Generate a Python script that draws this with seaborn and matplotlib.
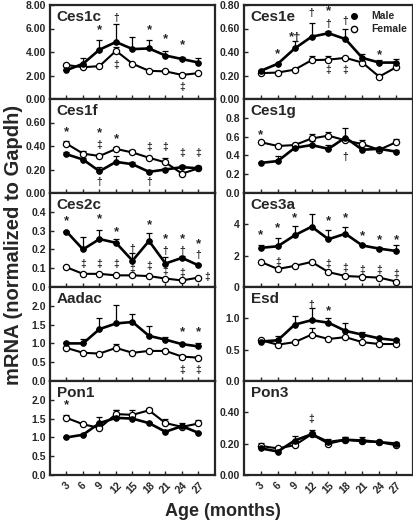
import numpy as np
import pandas as pd
import seaborn as sns
import matplotlib.pyplot as plt
from matplotlib.lines import Line2D

sns.set_style("ticks")
plt.rcParams['font.family'] = ['Liberation Sans', 'DejaVu Sans']
plt.rcParams['font.weight'] = 'bold'

# Dữ liệu: tuổi (tháng)
ages = [3, 6, 9, 12, 15, 18, 21, 24, 27]
genes = ['Ces1c', 'Ces1e', 'Ces1f', 'Ces1g', 'Ces2c', 'Ces3a', 'Aadac', 'Esd', 'Pon1', 'Pon3']

ces1c_m = [2.45, 3.0, 4.2, 4.85, 4.25, 4.3, 3.7, 3.4, 3.1]
ces1c_m_err = [0.1, 0.5, 0.8, 1.5, 1.0, 0.75, 0.35, 0.2, 0.35]
ces1c_f = [2.9, 2.7, 2.8, 4.1, 3.0, 2.4, 2.35, 2.05, 2.2]
ces1c_f_err = [0.1, 0.05, 0.05, 0.3, 0.05, 0.05, 0.1, 0.1, 0.05]

ces1e_m = [0.24, 0.30, 0.43, 0.53, 0.56, 0.51, 0.35, 0.31, 0.31]
ces1e_m_err = [0.01, 0.01, 0.06, 0.12, 0.02, 0.09, 0.03, 0.02, 0.03]
ces1e_f = [0.22, 0.225, 0.25, 0.33, 0.335, 0.35, 0.31, 0.19, 0.27]
ces1e_f_err = [0.01, 0.01, 0.01, 0.04, 0.03, 0.01, 0.01, 0.02, 0.01]

ces1f_m = [0.33, 0.285, 0.185, 0.265, 0.245, 0.18, 0.20, 0.22, 0.21]
ces1f_m_err = [0.02, 0.01, 0.04, 0.05, 0.02, 0.02, 0.01, 0.02, 0.02]
ces1f_f = [0.42, 0.335, 0.315, 0.375, 0.345, 0.30, 0.26, 0.165, 0.21]
ces1f_f_err = [0.02, 0.02, 0.02, 0.02, 0.02, 0.01, 0.04, 0.01, 0.01]

ces1g_m = [0.32, 0.34, 0.48, 0.51, 0.47, 0.59, 0.46, 0.47, 0.44]
ces1g_m_err = [0.01, 0.05, 0.03, 0.04, 0.04, 0.10, 0.02, 0.02, 0.02]
ces1g_f = [0.54, 0.50, 0.51, 0.58, 0.61, 0.56, 0.52, 0.46, 0.54]
ces1g_f_err = [0.01, 0.01, 0.02, 0.05, 0.04, 0.02, 0.04, 0.02, 0.03]

ces2c_m = [0.295, 0.20, 0.255, 0.235, 0.14, 0.245, 0.125, 0.155, 0.115]
ces2c_m_err = [0.005, 0.065, 0.05, 0.02, 0.04, 0.04, 0.035, 0.01, 0.01]
ces2c_f = [0.105, 0.07, 0.07, 0.062, 0.062, 0.058, 0.045, 0.035, 0.05]
ces2c_f_err = [0.005, 0.003, 0.003, 0.003, 0.003, 0.003, 0.003, 0.003, 0.005]

ces3a_m = [2.5, 2.6, 3.3, 3.85, 3.05, 3.4, 2.65, 2.45, 2.3]
ces3a_m_err = [0.2, 0.5, 0.6, 0.8, 0.6, 0.45, 0.1, 0.1, 0.35]
ces3a_f = [1.6, 1.15, 1.35, 1.6, 0.95, 0.7, 0.65, 0.6, 0.35]
ces3a_f_err = [0.05, 0.05, 0.05, 0.05, 0.05, 0.05, 0.05, 0.05, 0.05]

aadac_m = [1.0, 1.0, 1.38, 1.53, 1.57, 1.2, 1.1, 0.98, 0.92]
aadac_m_err = [0.03, 0.12, 0.3, 0.5, 0.22, 0.25, 0.06, 0.03, 0.1]
aadac_f = [0.88, 0.75, 0.73, 0.88, 0.75, 0.8, 0.8, 0.65, 0.62]
aadac_f_err = [0.02, 0.01, 0.01, 0.1, 0.01, 0.01, 0.05, 0.05, 0.02]

esd_m = [0.63, 0.65, 0.9, 0.97, 0.93, 0.8, 0.74, 0.68, 0.65]
esd_m_err = [0.02, 0.07, 0.13, 0.2, 0.07, 0.13, 0.04, 0.02, 0.02]
esd_f = [0.65, 0.58, 0.62, 0.74, 0.67, 0.7, 0.62, 0.59, 0.59]
esd_f_err = [0.01, 0.01, 0.01, 0.1, 0.01, 0.01, 0.01, 0.01, 0.01]

pon1_m = [1.0, 1.07, 1.38, 1.52, 1.5, 1.38, 1.15, 1.3, 1.12]
pon1_m_err = [0.02, 0.03, 0.17, 0.2, 0.03, 0.03, 0.03, 0.02, 0.02]
pon1_f = [1.52, 1.35, 1.25, 1.62, 1.6, 1.72, 1.38, 1.28, 1.37]
pon1_f_err = [0.08, 0.03, 0.03, 0.1, 0.12, 0.05, 0.12, 0.1, 0.1]

pon3_m = [0.17, 0.15, 0.22, 0.26, 0.21, 0.225, 0.22, 0.21, 0.20]
pon3_m_err = [0.01, 0.01, 0.03, 0.03, 0.02, 0.02, 0.02, 0.01, 0.01]
pon3_f = [0.185, 0.17, 0.19, 0.26, 0.20, 0.225, 0.215, 0.21, 0.19]
pon3_f_err = [0.02, 0.01, 0.01, 0.01, 0.01, 0.02, 0.01, 0.01, 0.01]

male = [ces1c_m, ces1e_m, ces1f_m, ces1g_m, ces2c_m, ces3a_m, aadac_m, esd_m, pon1_m, pon3_m]
male_err = [ces1c_m_err, ces1e_m_err, ces1f_m_err, ces1g_m_err, ces2c_m_err, ces3a_m_err,
            aadac_m_err, esd_m_err, pon1_m_err, pon3_m_err]
female = [ces1c_f, ces1e_f, ces1f_f, ces1g_f, ces2c_f, ces3a_f, aadac_f, esd_f, pon1_f, pon3_f]
female_err = [ces1c_f_err, ces1e_f_err, ces1f_f_err, ces1g_f_err, ces2c_f_err, ces3a_f_err,
              aadac_f_err, esd_f_err, pon1_f_err, pon3_f_err]

# Trục y của từng panel
ytops = [8, 0.8, 0.8, 1.0, 0.5, 6, 2.5, 1.5, 2.5, 0.6]
yticks = [[0, 2, 4, 6, 8], [0, 0.2, 0.4, 0.6, 0.8], [0, 0.2, 0.4, 0.6], [0, 0.2, 0.4, 0.6, 0.8],
          [0, 0.1, 0.2, 0.3, 0.4], [0, 2, 4], [0, 0.5, 1.0, 1.5, 2.0], [0, 0.5, 1.0],
          [0, 0.5, 1.0, 1.5, 2.0], [0, 0.2, 0.4]]
yfmt = ['%.2f', '%.2f', '%.2f', '%.1f', '%.1f', '%d', '%.1f', '%.1f', '%.1f', '%.2f']

# Ký hiệu thống kê (tuổi, y, ký hiệu)
marks = [
    [(9, 5.9, '*'), (12, 6.9, '†'), (18, 5.9, '*'), (21, 5.1, '*'), (24, 4.6, '*'),
     (12, 2.9, '‡'), (24, 1.0, '‡')],
    [(6, 0.38, '*'), (9, 0.52, '*†'), (12, 0.73, '†'), (15, 0.75, '*'), (15, 0.64, '†'),
     (18, 0.66, '†'), (24, 0.37, '*'), (15, 0.25, '‡'), (18, 0.25, '‡')],
    [(3, 0.52, '*'), (9, 0.51, '*'), (9, 0.41, '‡'), (12, 0.46, '*'), (18, 0.39, '‡'),
     (21, 0.39, '‡'), (24, 0.34, '‡'), (27, 0.34, '‡'), (9, 0.09, '†'), (18, 0.09, '†')],
    [(3, 0.62, '*'), (18, 0.38, '†')],
    [(3, 0.35, '*'), (9, 0.36, '*'), (12, 0.29, '*'), (18, 0.33, '*'), (21, 0.255, '*'),
     (24, 0.255, '*'), (27, 0.23, '*'), (15, 0.20, '†'), (21, 0.19, '†'), (24, 0.19, '†'),
     (27, 0.17, '†'), (6, 0.12, '‡'), (9, 0.12, '‡'), (12, 0.12, '‡'), (15, 0.095, '‡'),
     (18, 0.11, '‡'), (21, 0.085, '‡'), (24, 0.075, '‡'), (28.6, 0.055, '‡')],
    [(3, 3.3, '*'), (6, 3.75, '*'), (9, 4.4, '*'), (15, 4.2, '*'), (18, 4.4, '*'),
     (21, 3.25, '*'), (24, 3.0, '*'), (27, 3.0, '*'), (6, 1.6, '‡'), (15, 1.45, '‡'),
     (18, 1.2, '‡'), (21, 1.1, '‡'), (24, 1.1, '‡'), (27, 0.85, '‡')],
    [(24, 1.3, '*'), (27, 1.3, '*'), (24, 0.3, '‡'), (27, 0.3, '‡')],
    [(12, 1.22, '†'), (15, 1.12, '*')],
    [(3, 1.85, '*')],
    [(12, 0.36, '‡')],
]

W, H = 414, 525
fig = plt.figure(figsize=(W / 100, H / 100), dpi=100)

for i, gene in enumerate(genes):
    row, col = i // 2, i % 2
    x0 = 50 if col == 0 else 244
    w = 165 if col == 0 else 169
    top = 5 + 94 * row
    ax = fig.add_axes([x0 / W, (H - top - 94) / H, w / W, 94 / H])

    # Lỗi chỉ vẽ phía trên
    ax.errorbar(ages, male[i], yerr=[np.zeros(9), male_err[i]], fmt='none',
                ecolor='black', elinewidth=0.9, capsize=2.5, capthick=0.9, zorder=2)
    ax.errorbar(ages, female[i], yerr=[np.zeros(9), female_err[i]], fmt='none',
                ecolor='black', elinewidth=0.9, capsize=2.5, capthick=0.9, zorder=2)

    df = pd.DataFrame({'age': ages, 'male': male[i], 'female': female[i]})
    sns.lineplot(data=df, x='age', y='female', ax=ax, color='black', lw=1.5,
                 marker='o', markersize=4.5, markerfacecolor='white',
                 markeredgecolor='black', markeredgewidth=0.9, zorder=3)
    sns.lineplot(data=df, x='age', y='male', ax=ax, color='black', lw=1.9,
                 marker='o', markersize=4, markerfacecolor='black',
                 markeredgecolor='black', zorder=4)

    for (a, yv, s) in marks[i]:
        fs = 9.5 if s.startswith('*') else 7.5
        ax.text(a, yv, s, ha='center', va='center', fontsize=fs, fontweight='bold')

    ax.set_xlim(0, 30)
    ax.set_ylim(0, ytops[i])
    ax.set_xticks(ages)
    ax.set_yticks(yticks[i])
    ax.set_yticklabels([yfmt[i] % v for v in yticks[i]])
    ax.tick_params(direction='in', length=3, width=1, labelsize=7.5, pad=2)
    ax.tick_params(axis='y', pad=3)
    if row == 4:
        ax.set_xticklabels([str(a) for a in ages], rotation=45, ha='center', fontsize=7.5)
        ax.tick_params(axis='x', pad=4)
    else:
        ax.set_xticklabels([])
    ax.set_xlabel('')
    ax.set_ylabel('')
    for sp in ax.spines.values():
        sp.set_linewidth(1.6)
        sp.set_visible(True)
    ax.text(0.04, 0.95, gene, transform=ax.transAxes, ha='left', va='top',
            fontsize=11, fontweight='bold')

    if gene == 'Ces1e':
        handles = [Line2D([], [], marker='o', ls='none', color='black', markersize=4),
                   Line2D([], [], marker='o', ls='none', markerfacecolor='white',
                          markeredgecolor='black', markersize=4.5)]
        ax.legend(handles, ['Male', 'Female'], loc='upper right', frameon=False,
                  handlelength=1.2, handletextpad=1.0, labelspacing=0.3,
                  borderaxespad=0.2, prop={'weight': 'bold', 'size': 7.5})

fig.text(14 / W, 1 - 245 / H, 'mRNA (normalized to Gapdh)', rotation=90, ha='center',
         va='center', fontsize=14.5, fontweight='bold')
fig.text(223 / W, 1 - 512 / H, 'Age (months)', ha='center', va='center',
         fontsize=13, fontweight='bold')

fig.savefig('out.png', dpi=100)
